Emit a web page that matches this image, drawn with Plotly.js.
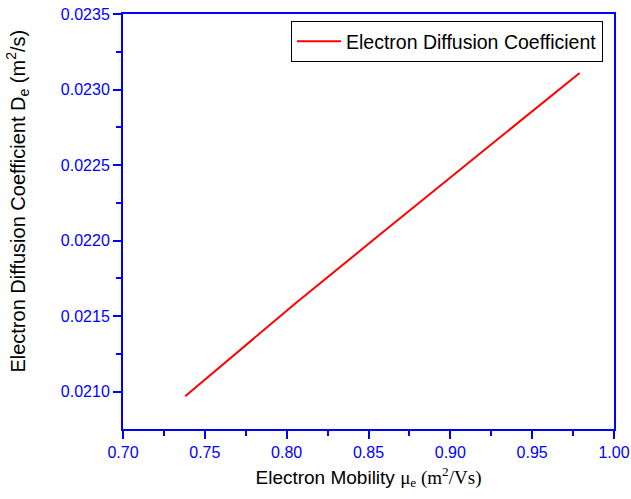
<!DOCTYPE html>
<html>
<head>
<meta charset="utf-8">
<script src="https://cdn.plot.ly/plotly-3.0.1.min.js"></script>
<style>html,body{margin:0;padding:0;background:#fff;}#chart{width:631px;height:499px;}</style>
</head>
<body>
<div id="chart"></div>
<script>
// Data
const mobility = [0.738, 0.759, 0.806, 0.857, 0.906, 0.952, 0.979];
const diffusion = [0.02097, 0.02116, 0.02159, 0.02204, 0.02247, 0.02287, 0.02311];
const seriesName = 'Electron Diffusion Coefficient';
const xTicks = [0.70, 0.75, 0.80, 0.85, 0.90, 0.95, 1.00];
const yTicks = [0.0210, 0.0215, 0.0220, 0.0225, 0.0230, 0.0235];

const blue = '#0000ff';
const sans = 'Liberation Sans, Arial, sans-serif';
const trace = {
  x: mobility, y: diffusion, type: 'scatter', mode: 'lines', name: seriesName,
  line: {color: '#ff0000', width: 2}
};
const layout = {
  width: 631, height: 499,
  margin: {l: 123, r: 17, t: 14, b: 70},
  paper_bgcolor: '#fff', plot_bgcolor: '#fff',
  font: {family: sans, color: '#000'},
  showlegend: true,
  legend: {
    x: 0.9776, y: 0.983, xanchor: 'right', yanchor: 'top',
    bordercolor: '#000', borderwidth: 1, bgcolor: '#fff',
    font: {size: 19.5, color: '#000', family: sans}, itemwidth: 44,
    tracegroupgap: 0
  },
  xaxis: {
    range: [0.70, 1.00], tickvals: xTicks, ticktext: xTicks.map(v => v.toFixed(2)),
    showgrid: false, zeroline: false, showline: true, linecolor: blue, linewidth: 2,
    mirror: true, ticks: 'outside', ticklen: 8, tickwidth: 2, tickcolor: blue,
    tickfont: {size: 16, color: blue, family: sans},
    minor: {dtick: 0.025, tick0: 0.7, ticks: 'outside', ticklen: 5, tickwidth: 2, tickcolor: blue, showgrid: false},
    title: {text: 'Electron Mobility <span style="font-family:Liberation Serif, Times New Roman, serif">μ<sub>e</sub> (m<sup>2</sup>/Vs)</span>', font: {size: 19, color: '#000', family: sans}, standoff: 10}
  },
  yaxis: {
    range: [0.020753, 0.0235], tickvals: yTicks, ticktext: yTicks.map(v => v.toFixed(4)),
    showgrid: false, zeroline: false, showline: true, linecolor: blue, linewidth: 2,
    mirror: true, ticks: 'outside', ticklen: 8, tickwidth: 2, tickcolor: blue,
    tickfont: {size: 16, color: blue, family: sans},
    minor: {dtick: 0.00025, tick0: 0.0210, ticks: 'outside', ticklen: 5, tickwidth: 2, tickcolor: blue, showgrid: false}
  },
  annotations: [{
    text: 'Electron Diffusion Coefficient D<sub>e</sub> (m<sup>2</sup>/s)',
    xref: 'paper', yref: 'paper', x: -0.2138, y: 0.548,
    xanchor: 'center', yanchor: 'middle', textangle: -90, showarrow: false,
    font: {size: 20, color: '#000', family: sans}
  }]
};
Plotly.newPlot('chart', [trace], layout, {displayModeBar: false, staticPlot: true});
</script>
</body>
</html>
